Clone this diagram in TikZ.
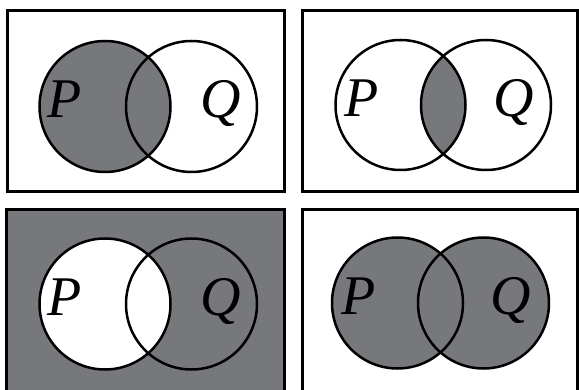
\documentclass[tikz,border=0pt]{standalone}
\usepackage{fontspec}
\setmainfont{Liberation Serif}
\definecolor{venngray}{RGB}{119,120,124}
\begin{document}
\begin{tikzpicture}[x=1pt,y=-1pt,
  frame/.style={line width=3pt},
  ring/.style={line width=2.5pt},
  lab/.style={anchor=base,inner sep=0pt,font=\fontsize{56}{56}\selectfont\itshape}]
\useasboundingbox (0,0) rectangle (579,390);
\clip (0,0) rectangle (579,390);
% ---------- panel 1 : P shaded ----------
\fill[white] (7,11) rectangle (284.5,191.5);
\fill[venngray] (105,106.5) circle (65.5);
\draw[ring] (105,106.5) circle (65.5);
\draw[ring] (191.5,106.5) circle (65.5);
\draw[frame] (7,11) rectangle (284.5,191.5);
\node[lab] (p1) at (65,118) {P};
\node[lab] (q1) at (221,118) {Q};
% ---------- panel 2 : intersection ----------
\begin{scope}
\clip (400.5,105) circle (65);
\fill[venngray] (486,105) circle (65);
\end{scope}
\draw[ring] (400.5,105) circle (65);
\draw[ring] (486,105) circle (65);
\draw[frame] (302,11) rectangle (577.5,191.5);
\node[lab] (p2) at (361.5,117) {P};
\node[lab] (q2) at (513.5,117) {Q};
% ---------- panel 3 : complement of P ----------
\fill[venngray] (6,210) rectangle (284.5,400);
\fill[white] (105,304) circle (65.5);
\draw[ring] (105,304) circle (65.5);
\draw[ring] (191.5,304) circle (65.5);
\draw[frame] (6,210) rectangle (284.5,400);
\node[lab] (p3) at (65,316) {P};
\node[lab] (q3) at (221,316) {Q};
% ---------- panel 4 : union ----------
\fill[venngray] (397.5,303) circle (65.5);
\fill[venngray] (483.5,303) circle (65.5);
\draw[ring] (397.5,303) circle (65.5);
\draw[ring] (483.5,303) circle (65.5);
\draw[frame] (302,210) rectangle (577.5,400);
\node[lab] (p4) at (359,315) {P};
\node[lab] (q4) at (511,315) {Q};
\end{tikzpicture}
\end{document}
